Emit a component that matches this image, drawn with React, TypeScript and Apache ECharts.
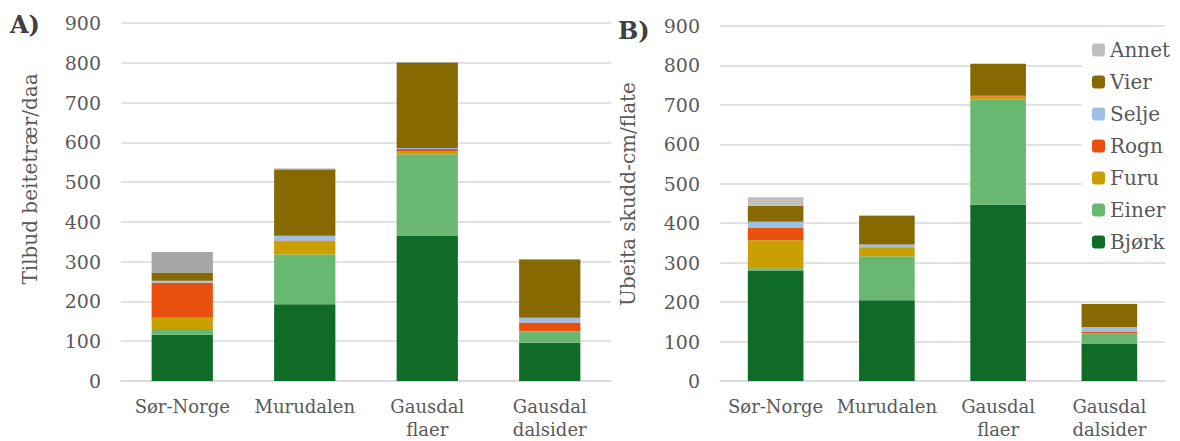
import React, { useEffect, useRef } from "react";
import * as echarts from "echarts";

const categories = ["Sør-Norge", "Murudalen", "Gausdal\nflaer", "Gausdal\ndalsider"];
const speciesNames = ["Bjørk", "Einer", "Furu", "Rogn", "Selje", "Vier", "Annet"];
const legendOrder = ["Annet", "Vier", "Selje", "Rogn", "Furu", "Einer", "Bjørk"];
const yTicks = [0, 900, 100];

// Panel A: Tilbud beitetrær/daa
const aBjork = [116, 193, 366, 96];
const aEiner = [15, 125, 204, 28];
const aFuru = [28, 33, 8, 1];
const aRogn = [88, 2, 5, 22];
const aSelje = [5, 12, 3, 12];
const aVier = [21, 167, 215, 145];
const aAnnet = [51, 2, 1, 3];

// Panel B: Ubeita skudd-cm/flate
const bBjork = [280, 205, 447, 95];
const bEiner = [6, 111, 266, 26];
const bFuru = [71, 22, 8, 0];
const bRogn = [31, 1, 2, 3];
const bSelje = [16, 7, 0, 13];
const bVier = [40, 73, 81, 58];
const bAnnet = [22, 2, 0, 1];

const colorsA = ["#0f6b25", "#69b872", "#c9a000", "#e9500e", "#9dbfe6", "#866900", "#a6a6a6"];
const colorsB = ["#0f6b25", "#69b872", "#c9a000", "#e9500e", "#9dbfe6", "#866900", "#bfbfbf"];

const FONT = "DejaVu Serif";
const TXT = "#595959";

export default function App() {
  const ref = useRef<HTMLDivElement>(null);
  useEffect(() => {
    document.body.style.margin = "0";
    const chart = echarts.init(ref.current!, null, { renderer: "svg" });
    const dataA = [aBjork, aEiner, aFuru, aRogn, aSelje, aVier, aAnnet];
    const dataB = [bBjork, bEiner, bFuru, bRogn, bSelje, bVier, bAnnet];

    const xAxisBase = (gridIndex: number) => ({
      type: "category",
      gridIndex,
      data: categories,
      axisTick: { show: false },
      axisLine: { lineStyle: { color: "#d9d9d9", width: 1.5 } },
      axisLabel: {
        interval: 0,
        margin: 14,
        color: TXT,
        fontFamily: FONT,
        fontSize: 18,
        lineHeight: 23,
      },
    });
    const yAxisBase = (gridIndex: number) => ({
      type: "value",
      gridIndex,
      min: yTicks[0],
      max: yTicks[1],
      interval: yTicks[2],
      axisLine: { show: false },
      axisTick: { show: false },
      splitLine: { lineStyle: { color: "#d9d9d9", width: 1.5 } },
      axisLabel: { margin: 20, color: TXT, fontFamily: FONT, fontSize: 19 },
    });

    const series: any[] = [];
    speciesNames.forEach((name, i) => {
      series.push({
        name,
        type: "bar",
        stack: "A",
        xAxisIndex: 0,
        yAxisIndex: 0,
        barWidth: "50%",
        itemStyle: { color: colorsA[i] },
        data: dataA[i],
      });
    });
    speciesNames.forEach((name, i) => {
      series.push({
        name,
        type: "bar",
        stack: "B",
        xAxisIndex: 1,
        yAxisIndex: 1,
        barWidth: "50%",
        itemStyle: { color: colorsB[i] },
        data: dataB[i],
      });
    });

    chart.setOption({
      animation: false,
      grid: [
        { left: 121, top: 23, width: 490, height: 360 },
        { left: 720, top: 26, width: 445, height: 357.5 },
      ],
      xAxis: [xAxisBase(0), xAxisBase(1)],
      yAxis: [yAxisBase(0), yAxisBase(1)],
      legend: {
        orient: "vertical",
        left: 1082,
        top: 30,
        selectedMode: false,
        backgroundColor: "#ffffff",
        padding: [10, 8, 6, 10],
        itemWidth: 13,
        itemHeight: 13,
        itemGap: 12,
        textStyle: { color: TXT, fontFamily: FONT, fontSize: 20, lineHeight: 20 },
        data: legendOrder.map((n) => ({
          name: n,
          itemStyle: { color: colorsB[speciesNames.indexOf(n)] },
        })),
      },
      graphic: [
        {
          type: "text",
          x: 10,
          y: 24,
          style: { text: "A)", fontFamily: FONT, fontSize: 24, fontWeight: "bold", fill: "#404040", textVerticalAlign: "middle" },
        },
        {
          type: "text",
          x: 618,
          y: 30,
          style: { text: "B)", fontFamily: FONT, fontSize: 24, fontWeight: "bold", fill: "#404040", textVerticalAlign: "middle" },
        },
        {
          type: "text",
          x: 30,
          y: 179,
          rotation: Math.PI / 2,
          style: { text: "Tilbud beitetrær/daa", fontFamily: FONT, fontSize: 20, fill: TXT, textAlign: "center", textVerticalAlign: "middle" },
        },
        {
          type: "text",
          x: 628,
          y: 194,
          rotation: Math.PI / 2,
          style: { text: "Ubeita skudd-cm/flate", fontFamily: FONT, fontSize: 20, fill: TXT, textAlign: "center", textVerticalAlign: "middle" },
        },
      ],
      series,
    });
    return () => chart.dispose();
  }, []);
  return <div ref={ref} style={{ width: 1180, height: 441 }} />;
}
